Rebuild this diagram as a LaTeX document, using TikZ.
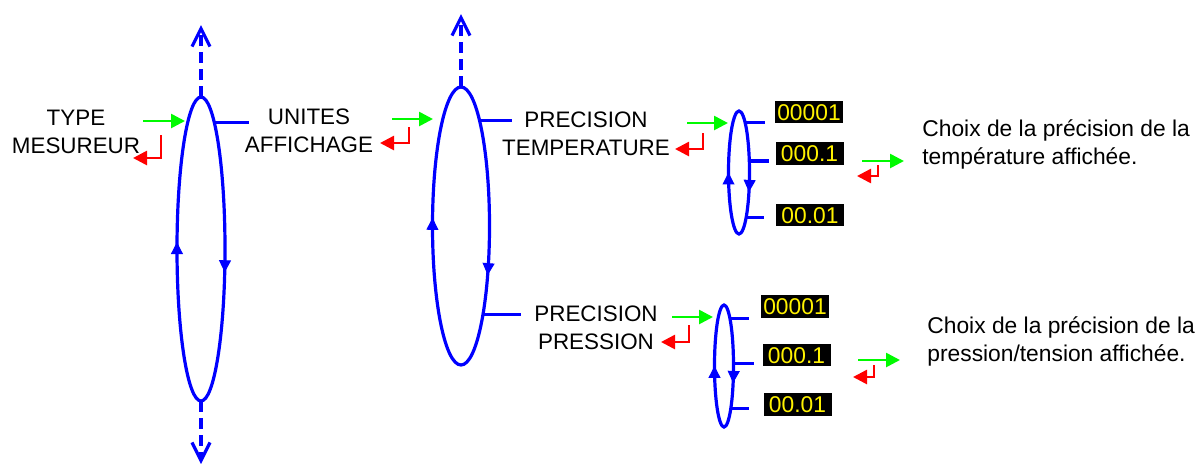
\documentclass[tikz,border=0pt]{standalone}
\usepackage{fontspec}
\setmainfont{Liberation Sans}
\usetikzlibrary{shapes.geometric,arrows.meta,decorations.markings}
\definecolor{menublue}{RGB}{0,0,255}
\definecolor{okgreen}{RGB}{0,250,0}
\definecolor{escred}{RGB}{255,0,0}
\tikzset{
  menu/.style={draw=menublue,line width=1.6pt,ellipse,inner sep=0pt,outer sep=0pt},
  loopmarks/.style 2 args={postaction={decorate,decoration={markings,
    mark=at position #1 with {\arrowreversed[line width=0.5pt]{Triangle[length=6pt,width=6pt]}},
    mark=at position #2 with {\arrowreversed[line width=0.5pt]{Triangle[length=6pt,width=6pt]}}}}},
  menutext/.style={font=\fontsize{11.2}{14}\selectfont,align=center,inner sep=0pt},
  note/.style={font=\fontsize{11.4}{14}\selectfont,align=left,anchor=west,inner sep=0pt},
  digits/.style={fill=black,text=yellow,font=\fontsize{11.4}{14}\selectfont,
    minimum width=34pt,minimum height=11.3pt,text height=8.1pt,text depth=0pt,inner sep=0pt},
  link/.style={draw=menublue,line width=1.6pt},
  tick/.style={link,shorten >=5pt},
  more/.style={draw=menublue,line width=1.6pt,dash pattern=on 5.5pt off 3pt,
    -{Straight Barb[length=9pt,width=9pt,line width=1.6pt]}},
  enter/.style={draw=okgreen,line width=1.3pt,-{Triangle[length=7pt,width=7pt]}},
  escape/.style={draw=escred,line width=1.3pt,-{Triangle[length=7pt,width=7pt]}}
}
\begin{document}
\begin{tikzpicture}[x=0.5pt,y=-0.5pt]
\useasboundingbox (0,0) rectangle (1195,463);
% menu loops
\node[menu,minimum width=24pt,minimum height=152pt,loopmarks={0.489}{0.963}] (typeloop) at (201,249) {};
\node[menu,minimum width=28.5pt,minimum height=139pt,loopmarks={0.486}{0.916}] (unitloop) at (461,226) {};
\node[menu,minimum width=10.5pt,minimum height=61.5pt,loopmarks={0.5}{0.924}] (temploop) at (739,172.5) {};
\node[menu,minimum width=9.5pt,minimum height=61pt,loopmarks={0.5}{0.933}] (presloop) at (724,366) {};
% menu entries
\node[menutext] (mesureur) at (76,132) {TYPE\\MESUREUR};
\node[menutext] (unites) at (309,130.5) {UNITES\\AFFICHAGE};
\node[menutext] (preciT) at (586,134) {PRECISION\\TEMPERATURE};
\node[menutext] (preciP) at (596,327.5) {PRECISION\\PRESSION};
% displayed values
\node[digits] (t1) at (809,112) {00001};
\node[digits] (t2) at (809.5,153.5) {000.1};
\node[digits] (t3) at (810,215) {00.01};
\node[digits] (p1) at (795,306.5) {00001};
\node[digits] (p2) at (796.5,355) {000.1};
\node[digits] (p3) at (797.5,404.5) {00.01};
% notes
\node[note] (noteT) at (922,144.5) {Choix de la précision de la\\température affichée.};
\node[note] (noteP) at (927,341) {Choix de la précision de la\\pression/tension affichée.};
% links to entries
\draw[link,shorten >=-2pt] (typeloop.84.4) -- (typeloop.84.4 -| unites.west);
\draw[link,shorten >=-5pt] (unitloop.80.6) -- (unitloop.80.6 -| preciT.west);
\draw[link,shorten >=6.5pt] (unitloop.-76.7) -- (unitloop.-76.7 -| preciP.west);
\draw[tick] (temploop.83.2) -- (temploop.83.2 -| t1.west);
\draw[tick,shorten >=3pt] (temploop.48.2) -- (temploop.48.2 -| t2.west);
\draw[tick,shorten >=6pt] (temploop.-81.2) -- (temploop.-81.2 -| t3.west);
\draw[tick,shorten >=6pt] (presloop.83.4) -- (presloop.83.4 -| p1.west);
\draw[tick,shorten >=4pt] (presloop.17.5) -- (presloop.17.5 -| p2.west);
\draw[tick,shorten >=7pt] (presloop.-81.1) -- (presloop.-81.1 -| p3.west);
% more menus above / below
\coordinate (upA) at (201,25);
\coordinate (downA) at (201,464);
\coordinate (upB) at (461,14);
\draw[more] (typeloop.north) -- (upA);
\draw[more] (typeloop.south) -- (downA);
\draw[more] (unitloop.north) -- (upB);
% enter / escape keys
\foreach \n/\gx/\gy/\gl/\rx/\rt/\rb/\rl in {A/143/121/42/161/135/158/133,
    B/392/119/41/409/127/143/380, C/687/123/41/703/133/149/675,
    D/862/161/42/878/165/176/857, E/672/317/41/689/325/342/661,
    F/858/360/42/874/365/377/853}{
  \coordinate (go\n) at (\gx,\gy);
  \coordinate (goend\n) at (\gx+\gl,\gy);
  \coordinate (esc\n) at (\rx,\rt);
  \coordinate (escend\n) at (\rl,\rb);
  \draw[enter] (go\n) -- (goend\n);
  \draw[escape] (esc\n) |- (escend\n);
}
\end{tikzpicture}
\end{document}
